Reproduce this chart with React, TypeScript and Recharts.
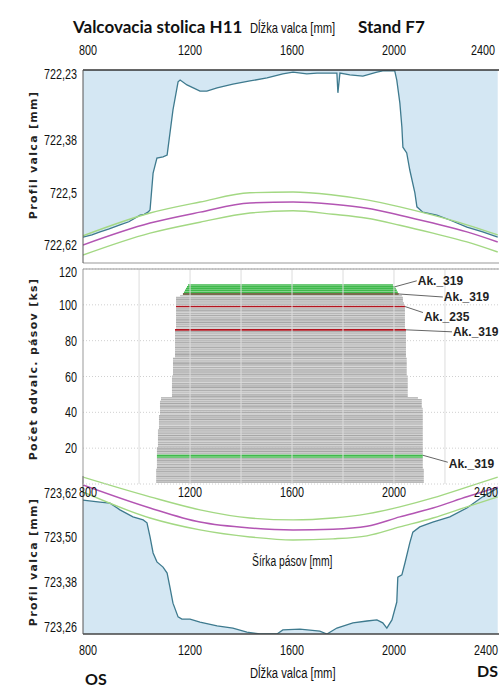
import React from 'react';
import {
  ComposedChart, Area, Line, Bar, Cell, XAxis, YAxis, CartesianGrid, ReferenceLine, LabelList,
} from 'recharts';

const SANS = "'Liberation Sans', Arial, sans-serif";
const HEAD = "Lato, 'Liberation Sans', sans-serif";
const AXT = "'DejaVu Sans', sans-serif";

// Dĺžka valca [mm]
const lengthTicks = [800, 1200, 1600, 2000, 2400];
const lengthDomain: [number, number] = [780, 2412];
const widthGrid = [1000, 1200, 1400, 1600, 1800, 2000, 2200];

// horný valec – profil
const topTicks = [722.23, 722.38, 722.5, 722.62];
const topX = [780, 815, 847, 880, 925, 960, 1004, 1020, 1035, 1043, 1055, 1070, 1094, 1110, 1133, 1153, 1161, 1188, 1239, 1266,
  1306, 1368, 1435, 1502, 1564, 1604, 1658, 1698, 1749, 1776, 1780, 1788, 1827, 1878, 1933, 1956, 2003, 2011, 2023, 2031,
  2035, 2050, 2062, 2082, 2090, 2113, 2168, 2219, 2286, 2348, 2407];
const topV = [722.601, 722.596, 722.589, 722.583, 722.573, 722.566, 722.551, 722.549, 722.544, 722.539,
  722.455, 722.421, 722.418, 722.414, 722.311, 722.247, 722.243, 722.254, 722.268, 722.268,
  722.261, 722.252, 722.245, 722.238, 722.229, 722.225, 722.229, 722.227, 722.227, 722.227,
  722.272, 722.227, 722.231, 722.234, 722.225, 722.222, 722.222, 722.243, 722.295, 722.350,
  722.396, 722.409, 722.448, 722.500, 722.532, 722.544, 722.551, 722.562, 722.578, 722.589, 722.601];

// oblúky
const arcX = [780, 1043, 1239, 1435, 1604, 1761, 1894, 2023, 2153, 2286, 2407];
const topArcHi = [722.598, 722.546, 722.521, 722.500, 722.498, 722.505, 722.516, 722.532, 722.551, 722.573, 722.596];
const topArcMid = [722.619, 722.569, 722.544, 722.523, 722.521, 722.526, 722.535, 722.551, 722.569, 722.589, 722.612];
const topArcLo = [722.642, 722.592, 722.567, 722.546, 722.541, 722.549, 722.558, 722.574, 722.592, 722.612, 722.635];

// spodný valec – profil
const botTicks = [723.26, 723.38, 723.5, 723.62];
const botX = [780, 847, 886, 925, 976, 1016, 1031, 1043, 1055, 1070, 1094, 1110, 1121, 1133, 1153, 1168, 1200, 1239, 1306, 1368,
  1423, 1474, 1541, 1564, 1631, 1709, 1737, 1776, 1839, 1894, 1933, 1956, 1972, 1992, 2011, 2015, 2031, 2043, 2062, 2074,
  2101, 2152, 2219, 2286, 2348, 2407];
const botV = [723.600, 723.595, 723.592, 723.574, 723.555, 723.547, 723.539, 723.501, 723.458, 723.434,
  723.420, 723.404, 723.366, 723.323, 723.286, 723.280, 723.280, 723.272, 723.262, 723.256,
  723.245, 723.240, 723.240, 723.251, 723.253, 723.248, 723.240, 723.256, 723.270, 723.275,
  723.278, 723.270, 723.256, 723.278, 723.326, 723.393, 723.399, 723.431, 723.485, 723.514,
  723.528, 723.541, 723.555, 723.579, 723.609, 723.633];
const botArcHi = [723.662, 723.609, 723.574, 723.552, 723.547, 723.552, 723.563, 723.582, 723.606, 723.635, 723.662];
const botArcMid = [723.641, 723.579, 723.541, 723.525, 723.520, 723.522, 723.530, 723.555, 723.579, 723.609, 723.635];
const botArcLo = [723.622, 723.552, 723.520, 723.501, 723.493, 723.496, 723.504, 723.528, 723.552, 723.582, 723.609];

// odvalcované pásy (poradie 1..111), šírka od–do [mm]
const coilTicks = [20, 40, 60, 80, 100, 120];
const coilLeft = [
  1067, 1067, 1067, 1067, 1067, 1067, 1067, 1067,
  1070, 1070, 1070, 1070, 1070, 1070, 1070, 1070, 1070, 1070, 1070, 1070,
  1074, 1074, 1074, 1074, 1074, 1074, 1074, 1074, 1074, 1074,
  1078, 1078, 1078, 1078, 1078, 1078, 1078, 1078,
  1082, 1082, 1082, 1082, 1082, 1082, 1082, 1082,
  1086, 1086,
  1129, 1129, 1129, 1129, 1129, 1129, 1129, 1129, 1129, 1129, 1129, 1129,
  1133, 1133, 1133, 1133, 1133, 1133, 1133, 1133, 1133, 1133,
  1141, 1141, 1141, 1141, 1141, 1141, 1141, 1141, 1141, 1141, 1141, 1141, 1141, 1141, 1141, 1141,
  1145, 1145, 1145, 1145, 1145, 1145, 1145, 1145, 1145, 1145, 1145, 1145, 1145, 1145, 1145, 1145, 1145, 1145,
  1161, 1172, 1176, 1180, 1184, 1188, 1192,
];
const coilRight = [
  2117, 2117, 2117, 2117, 2117, 2117, 2117, 2117,
  2113, 2113, 2113, 2113, 2113, 2113, 2113, 2113, 2113, 2113, 2113, 2113,
  2113, 2113, 2113, 2113, 2113, 2113, 2113, 2113, 2113, 2113,
  2113, 2113, 2113, 2113, 2113, 2113, 2113, 2113,
  2113, 2113, 2113, 2113, 2109, 2109, 2109, 2109,
  2109, 2094,
  2054, 2054, 2054, 2054, 2054, 2054, 2054, 2054, 2054, 2054, 2054, 2054,
  2050, 2050, 2050, 2050, 2050, 2050, 2050, 2050, 2050, 2050,
  2047, 2047, 2047, 2047, 2047, 2047, 2047, 2047, 2047, 2047, 2047, 2047, 2047, 2047, 2047, 2047,
  2043, 2043, 2043, 2043, 2043, 2043, 2043, 2043, 2043, 2043, 2043, 2043, 2043, 2039, 2039, 2035, 2035, 2035,
  2031, 2019, 2015, 2011, 2007, 2003, 1996,
];
const greenCoils = [15, 16, 107, 108, 109, 110, 111];
const redCoils = [86, 99];
const darkCoils = [106];
const tags = [
  { coil: 110, text: 'Ak._319' },
  { coil: 106, text: 'Ak._319' },
  { coil: 99, text: 'Ak._235' },
  { coil: 86, text: 'Ak._319' },
  { coil: 16, text: 'Ak._319' },
];
// posun popisu od konca pásu [dx, dy, posun textu]
const tagOffset: Record<number, [number, number, number]> = {
  110: [22, -6, 0], 106: [44, 3, 0], 99: [18, 6, 4], 86: [46, 2, 0], 16: [25, 7, 2],
};

const pts = (xs: number[], vs: number[]) => xs.map((x, i) => ({ x, v: vs[i] }));
const topProfile = pts(topX, topV);
const botProfile = pts(botX, botV);
const coils = coilLeft.map((l, i) => ({ n: i + 1, range: [l, coilRight[i]] }));

const grays = ['#bababa', '#b2b2b2', '#c0c0c0', '#acacac', '#b7b7b7', '#c4c4c4', '#afafaf', '#bcbcbc', '#a7a7a7'];
const coilFill = (n: number, i: number) =>
  greenCoils.includes(n) ? '#3fb94b'
    : redCoils.includes(n) ? '#b3141f'
      : darkCoils.includes(n) ? '#4d3b12'
        : grays[i % grays.length];

const fmtTop = (v: number) => String(v).replace('.', ',');
const fmt2 = (v: number) => v.toFixed(2).replace('.', ',');
const fmtInt = (v: number) => String(v);
const lastTick = lengthTicks[lengthTicks.length - 1];

// úzke popisky osí (ako v predlohe)
const narrowTick = (fmt: (v: number) => string, dy: number, clampEnd = false) => (p: any) => {
  const v = p.payload.value;
  let x = p.x;
  let anchor = p.textAnchor;
  if (clampEnd && v === lastTick) { x = 498; anchor = 'end'; }
  return (
    <text transform={`translate(${x},${p.y + dy}) scale(0.72,1)`} textAnchor={anchor}
      fontSize={15} fontFamily={SANS} fill="#111">{fmt(v)}</text>
  );
};

const Tag = (props: any) => {
  const vb = props.viewBox || props;
  const { x, y, width, height } = vb;
  const n = (props.index ?? -1) + 1;
  const t = tags.find(k => k.coil === n);
  if (!t) return null;
  const [dx, dy, ty] = tagOffset[n];
  const x0 = x + width;
  const y0 = y + height / 2;
  return (
    <g>
      <line x1={x0} y1={y0} x2={x0 + dx} y2={y0 + dy} stroke="#666" strokeWidth={1} />
      <text x={x0 + dx + 1} y={y0 + dy + ty} dominantBaseline="central" fontSize={12} fontWeight={700}
        fontFamily={SANS} fill="#222">{t.text}</text>
    </g>
  );
};

const arcLines = (hi: number[], mid: number[], lo: number[]) => [
  <Line key="hi" data={pts(arcX, hi)} dataKey="v" type="monotone" stroke="#a3d883" strokeWidth={1.4} dot={false} isAnimationActive={false} />,
  <Line key="mid" data={pts(arcX, mid)} dataKey="v" type="monotone" stroke="#b355b3" strokeWidth={1.5} dot={false} isAnimationActive={false} />,
  <Line key="lo" data={pts(arcX, lo)} dataKey="v" type="monotone" stroke="#a3d883" strokeWidth={1.4} dot={false} isAnimationActive={false} />,
];

const Narrow = ({ x, y, size, sx, children }: any) => (
  <text transform={`translate(${x},${y}) scale(${sx},1)`} fontFamily={SANS} fontSize={size} fill="#111">{children}</text>
);

export default function App() {
  return (
    <div style={{ position: 'absolute', left: 0, top: 0, width: 499, height: 696, background: '#fff', overflow: 'hidden' }}>
      {/* horný valec */}
      <div style={{ position: 'absolute', left: 0, top: 0 }}>
        <ComposedChart width={499} height={264} margin={{ top: 0, right: 0, bottom: 1, left: 0 }}>
          <XAxis type="number" dataKey="x" orientation="top" domain={lengthDomain} ticks={lengthTicks} height={70}
            axisLine={{ stroke: '#333', strokeWidth: 1.5 }} tickLine={false} tickSize={0} tickMargin={0}
            tick={narrowTick(fmtInt, -15)} allowDataOverflow />
          <YAxis type="number" reversed domain={[722.22, 722.66]} ticks={topTicks} width={83}
            axisLine={{ stroke: '#555' }} tickLine={false} tickSize={0} tickMargin={6}
            tick={narrowTick(fmtTop, 5)} allowDataOverflow />
          <ReferenceLine y={722.66} stroke="#999" />
          <Area data={topProfile} dataKey="v" type="linear" baseValue="dataMin" fill="#d4e7f3" fillOpacity={1}
            stroke="#3e7a8e" strokeWidth={1.3} isAnimationActive={false} />
          {arcLines(topArcHi, topArcMid, topArcLo)}
        </ComposedChart>
      </div>

      {/* spodný valec */}
      <div style={{ position: 'absolute', left: 0, top: 460 }}>
        <ComposedChart width={499} height={200} margin={{ top: 16, right: 0, bottom: 0, left: 0 }}>
          <XAxis type="number" dataKey="x" domain={lengthDomain} ticks={lengthTicks} height={26}
            axisLine={{ stroke: '#444', strokeWidth: 1.5 }} tickLine={false} tickSize={0} tickMargin={0}
            tick={narrowTick(fmtInt, 21, true)} allowDataOverflow />
          <YAxis type="number" domain={[723.24, 723.665]} ticks={botTicks} width={83}
            axisLine={{ stroke: '#555' }} tickLine={false} tickSize={0} tickMargin={6}
            tick={narrowTick(fmt2, 5)} allowDataOverflow />
          <Area data={botProfile} dataKey="v" type="linear" baseValue="dataMin" fill="#d4e7f3" fillOpacity={1}
            stroke="#3e7a8e" strokeWidth={1.3} isAnimationActive={false} />
          {arcLines(botArcHi, botArcMid, botArcLo)}
        </ComposedChart>
      </div>

      {/* počet odvalcovaných pásov */}
      <div style={{ position: 'absolute', left: 0, top: 263 }}>
        <ComposedChart layout="vertical" width={499} height={240} data={coils} margin={{ top: 6, right: 0, bottom: 0, left: 0 }}>
          <CartesianGrid stroke="#d0d0d0" strokeDasharray="1 2" vertical={false} />
          <XAxis type="number" domain={lengthDomain} ticks={lengthTicks} height={19}
            axisLine={false} tickLine={false} tickSize={0} tickMargin={0}
            tick={narrowTick(fmtInt, 13, true)} allowDataOverflow />
          <YAxis type="number" dataKey="n" reversed domain={[0, 120]} ticks={coilTicks} width={83}
            axisLine={{ stroke: '#999' }} tickLine={false} tickSize={0} tickMargin={6}
            tick={narrowTick(fmtInt, 5)} allowDataOverflow />
          {widthGrid.map(v => <ReferenceLine key={v} x={v} stroke="#dcdcdc" />)}
          <ReferenceLine y={120} stroke="#999" />
          <Bar dataKey="range" barSize={3} isAnimationActive={false}>
            {coils.map((c, i) => <Cell key={c.n} fill={coilFill(c.n, i)} />)}
            <LabelList dataKey="range" content={Tag} />
          </Bar>
        </ComposedChart>
      </div>

      {/* popisy */}
      <svg width={499} height={696} style={{ position: 'absolute', left: 0, top: 0, pointerEvents: 'none' }}>
        <text x={73} y={33} fontFamily={HEAD} fontWeight={700} fontSize={17} fill="#111">Valcovacia stolica H11</text>
        <Narrow x={250} y={33} size={14} sx={0.8}>Dĺžka valca [mm]</Narrow>
        <text x={358} y={33} fontFamily={HEAD} fontWeight={700} fontSize={17} fill="#111">Stand F7</text>
        <g fontFamily={AXT} fontWeight={700} fontSize={11} letterSpacing={1.3} fill="#222" textAnchor="middle">
          <text transform="translate(33,155) rotate(-90)" dominantBaseline="central">Profil valca [mm]</text>
          <text transform="translate(33,369) rotate(-90)" dominantBaseline="central">Počet odvalc. pásov [ks]</text>
          <text transform="translate(33,562) rotate(-90)" dominantBaseline="central">Profil valca [mm]</text>
        </g>
        <Narrow x={252} y={566} size={15} sx={0.69}>Šírka pásov [mm]</Narrow>
        <Narrow x={250} y={678} size={15} sx={0.75}>Dĺžka valca [mm]</Narrow>
        <text x={85} y={685} fontFamily={HEAD} fontWeight={700} fontSize={16} fill="#111">OS</text>
        <text x={498} y={677} textAnchor="end" fontFamily={HEAD} fontWeight={700} fontSize={16} fill="#111">DS</text>
      </svg>
    </div>
  );
}
